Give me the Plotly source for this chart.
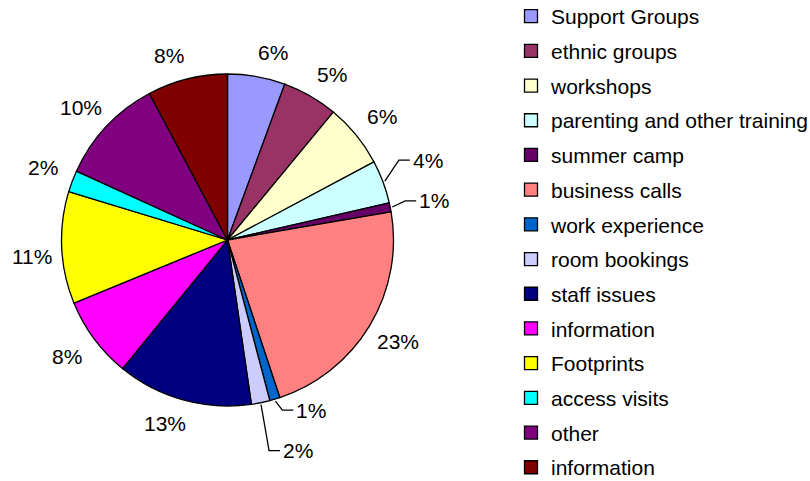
import math
import plotly.graph_objects as go

categories = ["Support Groups", "ethnic groups", "workshops", "parenting and other training",
              "summer camp", "business calls", "work experience", "room bookings",
              "staff issues", "information", "Footprints", "access visits", "other", "information"]
values = [5.6, 5.4, 6.2, 4.2, 0.9, 22.6, 1.0, 1.8, 13.2, 7.9, 10.9, 2.1, 10.4, 7.8]
colors = ["#9999FF", "#993366", "#FFFFCC", "#CCFFFF", "#660066", "#FF8080", "#0066CC",
          "#CCCCFF", "#000080", "#FF00FF", "#FFFF00", "#00FFFF", "#800080", "#800000"]

# ---- layout settings (pixels) ----
W, H = 810, 481
cx, cy, R = 227.5, 240, 166
LABEL_DIST = 182          # ring on which label boxes sit
LABEL_OFF_X, LABEL_OFF_Y = 14, 8   # half-box offset away from the pie
FS = 21
FONT = "Arial, Liberation Sans, sans-serif"
# labels that were dragged out with a leader line: shift of text-left point from slice edge
LEADER_SHIFT = {3: (26, -21), 4: (25, -6), 6: (19, 9), 7: (20, 46)}


def px(x):
    return x / W


def py(y):
    return 1 - y / H


fig = go.Figure()
fig.add_trace(go.Pie(
    values=values,
    labels=[str(i) for i in range(len(values))],
    customdata=categories,
    sort=False, direction="clockwise", rotation=0,
    marker=dict(colors=colors, line=dict(color="black", width=1.3)),
    textinfo="none",
    hovertemplate="%{customdata}: %{percent}<extra></extra>",
    showlegend=False,
    domain=dict(x=[px(cx - R), px(cx + R)], y=[py(cy + R), py(cy - R)]),
))
for i, (name, c) in enumerate(zip(categories, colors)):
    fig.add_trace(go.Scatter(
        x=[None], y=[None], mode="markers", name=name, legendgroup=f"g{i}",
        marker=dict(symbol="square", size=13, color=c, line=dict(color="black", width=1.3)),
    ))

total = sum(values)
cum = 0.0
annotations, shapes = [], []
for i, v in enumerate(values):
    mid = (cum + v / 2) / total * 2 * math.pi
    cum += v
    ux, uy = math.sin(mid), -math.cos(mid)
    text = f"{round(v / total * 100)}%"
    if i in LEADER_SHIFT:
        ex, ey = cx + (R + 2) * ux, cy + (R + 2) * uy
        sx, sy = LEADER_SHIFT[i]
        tx, ty = ex + sx, ey + sy
        shapes.append(dict(type="path", xref="paper", yref="paper",
                           path=f"M {px(ex)} {py(ey)} L {px(tx - 12)} {py(ty)} L {px(tx - 1)} {py(ty)}",
                           line=dict(color="black", width=1.3)))
        annotations.append(dict(x=px(tx), y=py(ty), xref="paper", yref="paper", text=text,
                                showarrow=False, xanchor="left", yanchor="middle",
                                font=dict(family=FONT, size=FS, color="black")))
    else:
        lx = cx + LABEL_DIST * ux + math.copysign(LABEL_OFF_X, ux)
        ly = cy + LABEL_DIST * uy + math.copysign(LABEL_OFF_Y, uy)
        annotations.append(dict(x=px(lx), y=py(ly), xref="paper", yref="paper", text=text,
                                showarrow=False, xanchor="center", yanchor="middle",
                                font=dict(family=FONT, size=FS, color="black")))

fig.update_layout(
    width=W, height=H,
    margin=dict(l=0, r=0, t=0, b=0, autoexpand=False),
    paper_bgcolor="white", plot_bgcolor="white",
    xaxis=dict(visible=False), yaxis=dict(visible=False),
    legend=dict(x=511 / W, xanchor="left", y=-7 / H, yanchor="bottom",
                font=dict(family=FONT, size=FS, color="black"),
                tracegroupgap=4.4, bgcolor="rgba(0,0,0,0)", maxheight=1000),
    annotations=annotations, shapes=shapes,
    font=dict(family=FONT),
)
fig.write_html("out.html", config={"displayModeBar": False},
               post_script="document.body.style.margin='0';")
